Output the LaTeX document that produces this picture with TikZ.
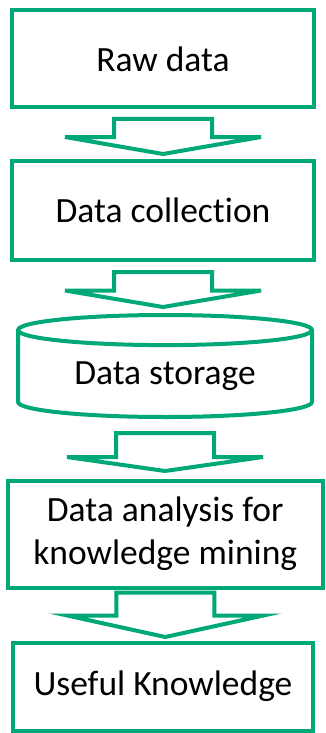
\documentclass[tikz,border=0pt]{standalone}
\usepackage{fontspec}
\setmainfont{Carlito}[Ligatures=NoCommon]
\usetikzlibrary{calc, positioning, shapes.geometric}
\definecolor{flowgreen}{RGB}{0,168,120}

% hollow block arrow: upper node, lower node, top gap, stem length, tip gap
\newcommand{\bigarrow}[5]{%
  \draw[flowarrow] let \p1=(#1.south), \p2=(#2.north) in
    (\x1-49pt,\y1-#3pt) -- (\x1+49pt,\y1-#3pt) -- (\x1+49pt,\y1-#3pt-#4pt)
    -- (\x1+98pt,\y1-#3pt-#4pt) -- (\x1,\y2+#5pt)
    -- (\x1-98pt,\y1-#3pt-#4pt) -- (\x1-49pt,\y1-#3pt-#4pt) -- cycle;}

\tikzset{
  stepbox/.style={draw=flowgreen, line width=4pt, outer sep=0pt, align=center,
    font=\fontsize{35.5}{43}\selectfont},
  storebox/.style={stepbox, cylinder, shape border rotate=90, aspect=0.16},
  flowarrow/.style={draw=flowgreen, line width=4pt},
}

\begin{document}
\begin{tikzpicture}[x=1pt, y=1pt]
    \useasboundingbox (0,0) rectangle (326,-733);
    \node[stepbox, minimum width=302pt, minimum height=97pt] at (163,-59) (raw) {Raw data};
    \node[stepbox, minimum width=302pt, minimum height=99pt] at (163,-210) (collect) {Data collection};
    \node[storebox, minimum width=294pt, minimum height=102pt, anchor=north] at (165,-315) (store) {Data storage};
    \node[stepbox, minimum width=315.5pt, minimum height=107pt] at (165.25,-534) (analysis) {Data analysis for\\knowledge mining};
    \node[stepbox, minimum width=300pt, minimum height=88pt] at (163,-686.5) (knowledge) {Useful Knowledge};
	\bigarrow{raw}{collect}{11.5}{18}{6.5}
	\bigarrow{collect}{store}{12.5}{18.5}{8}
	\bigarrow{store}{analysis}{16}{24}{9.5}
	\bigarrow{analysis}{knowledge}{5}{23}{5.5}
\end{tikzpicture}
\end{document}
